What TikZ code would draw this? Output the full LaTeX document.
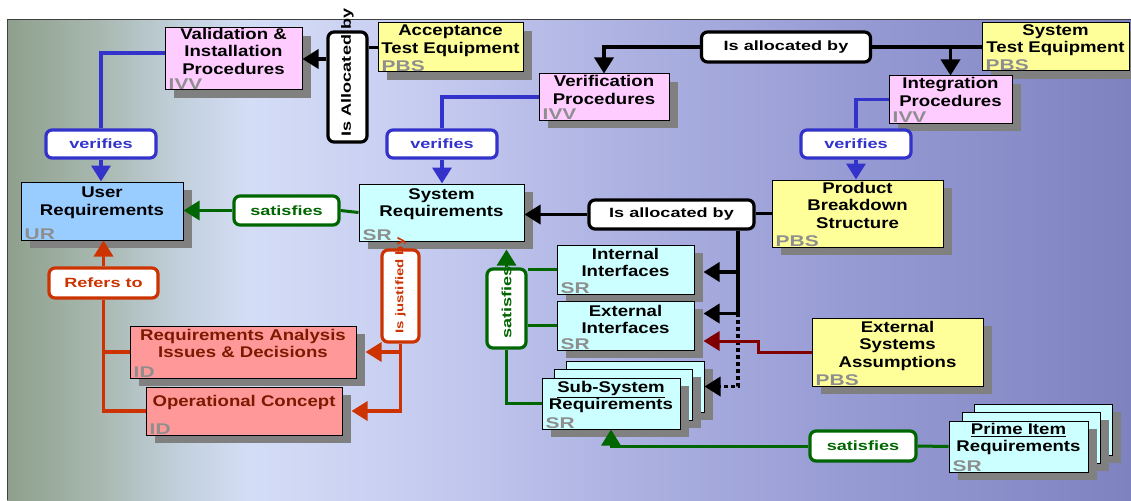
\documentclass[tikz,border=0pt]{standalone}
\usepackage{fontspec}
\setmainfont{Liberation Sans}[FakeStretch=1.2]
\newfontfamily\lblfont{Liberation Sans}[FakeStretch=1.35]
\newfontfamily\tagfont{Liberation Sans}[FakeStretch=1.35]
\usetikzlibrary{arrows.meta,calc}
\definecolor{ivvc}{HTML}{FFCCFF}
\definecolor{pbsc}{HTML}{FFFF99}
\definecolor{urc}{HTML}{99CCFF}
\definecolor{src}{HTML}{CCFFFF}
\definecolor{idc}{HTML}{FF9999}
\definecolor{idtxt}{HTML}{7A1A00}
\definecolor{tagc}{HTML}{8E8E8E}
\definecolor{shc}{HTML}{808080}
\definecolor{bluec}{HTML}{3333CC}
\definecolor{greenc}{HTML}{006600}
\definecolor{redc}{HTML}{CC3300}
\definecolor{dredc}{HTML}{800000}
\definecolor{bga}{HTML}{8EA08C}
\definecolor{bgb}{HTML}{A8B8B0}
\definecolor{bgc}{HTML}{C2D0DC}
\definecolor{bgd}{HTML}{D4DDF6}
\definecolor{bge}{HTML}{C6CCF0}
\definecolor{bgf}{HTML}{ADB2E2}
\definecolor{bgg}{HTML}{979BD4}
\definecolor{bgh}{HTML}{7E83C0}
\pgfdeclarehorizontalshading{bgsh}{100bp}{color(0bp)=(bga); color(25bp)=(bga); color(29.1bp)=(bgb); color(32.7bp)=(bgc); color(35.8bp)=(bgd); color(43.4bp)=(bge); color(52.3bp)=(bgf); color(62.5bp)=(bgg); color(75bp)=(bgh); color(100bp)=(bgh)}
\tikzset{
  boxst/.style={draw=black, line width=1pt, inner sep=0pt},
  ivv/.style={fill=ivvc},
  pbsb/.style={fill=pbsc},
  urb/.style={fill=urc},
  srb/.style={fill=src},
  idb/.style={fill=idc, text=idtxt},
  boxtxt/.style={align=center, inner sep=0pt, font=\bfseries\fontsize{15.5pt}{17.5pt}\selectfont},
  tagtxt/.style={inner sep=0pt, text=tagc, font=\tagfont\bfseries\fontsize{15.5pt}{15.5pt}\selectfont},
  lblbox/.style={rounded corners=6pt, fill=white, line width=3.2pt, inner sep=0pt, font=\lblfont\bfseries\fontsize{13.4pt}{15pt}\selectfont},
  lbltxt/.style={inner sep=0pt, font=\lblfont\bfseries\fontsize{13.4pt}{15pt}\selectfont},
  arr/.style={-{Triangle[length=16pt,width=19pt]}},
  blk/.style={draw=black, line width=3.5pt},
  dotln/.style={draw=black, line width=3.5pt, dash pattern=on 3.5pt off 3.5pt},
  blu/.style={draw=bluec, line width=3.5pt},
  grn/.style={draw=greenc, line width=3pt},
  rdl/.style={draw=redc, line width=3.2pt},
  drd/.style={draw=dredc, line width=3pt},
}
\newcommand\mkbox[9]{%
  \fill[shc] (#2+9,#3+8) rectangle (#4+9,#5+8);
  \node[boxst, #6, minimum width={(#4)-(#2)}, minimum height={(#5)-(#3)}] (#1) at ({((#2)+(#4))/2},{((#3)+(#5))/2}) {};
  \node[boxtxt, #6, fill=none, anchor=north] (#1-t) at ([yshift=-#9pt]#1.north) {#7};
  \node[tagtxt, anchor=base west] (#1-g) at ([xshift=4pt,yshift=0.8pt]#1.south west) {#8};
}
\newcommand\backbox[6]{%
  \fill[shc] (#2+9,#3+8) rectangle (#4+9,#5+8);
  \node[boxst, #6, minimum width={(#4)-(#2)}, minimum height={(#5)-(#3)}] (#1) at ({((#2)+(#4))/2},{((#3)+(#5))/2}) {};
}
\begin{document}
\begin{tikzpicture}[x=1pt, y=-1pt]
\useasboundingbox (0,0) rectangle (1131,500);
\fill[white] (0,0) rectangle (1131,500);
\shade[shading=bgsh] (7,20) rectangle (1131,500);
\draw[black!75, line width=1pt] (7,500) -- (7,20) -- (1131,20);

% boxes
\mkbox{val}{165}{28}{302}{90}{ivv}{Validation \&\\Installation\\Procedures}{IVV}{0.5}
\mkbox{acc}{378}{23}{523}{72}{pbsb}{Acceptance\\Test Equipment}{PBS}{2.5}
\mkbox{ver}{539}{74}{669}{120}{ivv}{Verification\\Procedures}{IVV}{2}
\mkbox{ste}{982}{23}{1129}{71}{pbsb}{System\\Test Equipment}{PBS}{1.5}
\mkbox{int}{889}{76}{1012}{123}{ivv}{Integration\\Procedures}{IVV}{2}
\mkbox{pbs}{772}{180}{943}{247}{pbsb}{Product\\Breakdown\\Structure}{PBS}{2.5}
\mkbox{ur}{21}{182}{183}{240}{urb}{User\\Requirements}{UR}{5.5}
\mkbox{sr}{359}{184}{524}{241}{srb}{System\\Requirements}{SR}{4.5}
\mkbox{ii}{557}{245}{694}{294}{srb}{Internal\\Interfaces}{SR}{3.5}
\mkbox{ei}{557}{301}{694}{350}{srb}{External\\Interfaces}{SR}{4.5}
\backbox{ss3}{566}{361}{704}{412}{srb}
\backbox{ss2}{554}{369}{692}{420}{srb}
\mkbox{ss}{542}{378}{680}{429}{srb}{\underline{Sub-System}\\Requirements}{SR}{3.5}
\mkbox{esa}{812}{318}{983}{386}{pbsb}{External\\Systems\\Assumptions}{PBS}{3.5}
\backbox{pi3}{974}{404}{1112}{455}{srb}
\backbox{pi2}{962}{412}{1100}{463}{srb}
\mkbox{pi}{949}{421}{1088}{472}{srb}{\underline{Prime Item}\\Requirements}{SR}{2.5}
\mkbox{ra}{130}{326}{356}{378}{idb}{Requirements Analysis\\Issues \& Decisions}{ID}{3.5}
\mkbox{op}{146}{387}{342}{435}{idb}{Operational Concept}{ID}{9}

% label boxes
\node[lblbox, draw=bluec, text=bluec, minimum width=110, minimum height=28] (v1) at (101,144) {verifies};
\node[lblbox, draw=bluec, text=bluec, minimum width=110, minimum height=28] (v2) at (442,144) {verifies};
\node[lblbox, draw=bluec, text=bluec, minimum width=110, minimum height=28] (v3) at (856,144) {verifies};
\node[lblbox, draw=greenc, text=greenc, minimum width=105, minimum height=29] (sat1) at (286.5,210.5) {satisfies};
\node[lblbox, draw=greenc, text=greenc, minimum width=106, minimum height=30] (sat3) at (863,446) {satisfies};
\node[lblbox, draw=black, text=black, minimum width=169, minimum height=30] (al2) at (786,47) {Is allocated by};
\node[lblbox, draw=black, text=black, minimum width=165, minimum height=29] (al3) at (671.5,214.5) {Is allocated by};
\node[lblbox, draw=redc, text=redc, minimum width=109, minimum height=30] (rt) at (103.5,283) {Refers to};
\node[lblbox, draw=black, minimum width=39, minimum height=110] (alc) at (347.5,87) {};
\node[lbltxt, text=black, rotate=90, anchor=west] (alc-t) at ([yshift=7pt]alc.south) {Is Allocated by};
\node[lblbox, draw=redc, minimum width=37, minimum height=92] (jb) at (400.5,296) {};
\node[lbltxt, text=redc, rotate=90, anchor=west, font=\lblfont\bfseries\fontsize{11.1pt}{13pt}\selectfont] (jb-t) at ([yshift=10pt]jb.south) {Is justified by};
\node[lblbox, draw=greenc, minimum width=39, minimum height=79] (sat2) at (506.5,308.5) {};
\node[lbltxt, text=greenc, rotate=90, anchor=west] (sat2-t) at ([yshift=11pt]sat2.south) {satisfies};

% black connectors
\draw[blk] (acc.west) -- (acc.west -| alc.east);
\draw[blk, arr] (alc.west |- val.east) -- (val.east);
\draw[blk] (ste.west) -- (al2.east);
\draw[blk, arr] (int.north |- ste.west) -- (int.north);
\draw[blk, arr] (al2.west) -| (ver.north);
\draw[blk] (pbs.west) -- (pbs.west -| al3.east);
\draw[blk, arr] (al3.west) -- (al3.west -| sr.east);
\coordinate (tk) at (738,313);
\coordinate (iiT) at ([xshift=9pt,yshift=-2.5pt]ii.east);
\coordinate (eiT) at ([xshift=9pt,yshift=12pt]ei.east);
\draw[blk] (al3.south -| tk) -- (tk);
\draw[blk, arr] (tk |- iiT) -- (iiT);
\draw[blk, arr] (tk |- eiT) -- (eiT);
\draw[dotln, arr] (tk) |- (ss3.east);
% dark red
\coordinate (dk) at (758,341);
\coordinate (eiR) at ([xshift=9pt,yshift=-15.5pt]ei.east);
\draw[drd, arr] (esa.west) -| (dk) -- (eiR);
% blue
\draw[blu] ([yshift=6pt]val.west) -| (v1.north);
\draw[blu, arr] (v1.south) -- (v1.south |- ur.north);
\draw[blu] (ver.west) -| (v2.north);
\draw[blu, arr] (v2.south) -- (v2.south |- sr.north);
\draw[blu] (int.west) -| (v3.north);
\draw[blu, arr] (v3.south) -- (v3.south |- pbs.north);
% green
\coordinate (srB) at ([yshift=-8pt]sr.south);
\draw[grn, arr] (sat2.north) -- (sat2.north |- srB);
\draw[grn] (ii.west) -- (ii.west -| sat2.east);
\draw[grn] (ei.west) -- (ei.west -| sat2.east);
\draw[grn] (sat2.south) |- (ss.west);
\draw[grn] (sr.west) -- (sat1.east);
\draw[grn, arr] (sat1.west) -- (sat1.west -| ur.east);
\draw[grn] (pi.west) -- (sat3.east);
\draw[grn, arr] (sat3.west) -| (ss.south);
% red
\coordinate (raT) at ([xshift=9pt]ra.east);
\coordinate (opT) at ([xshift=9pt]op.east);
\draw[rdl, arr] (jb.south) |- (opT);
\draw[rdl, arr] (jb.south |- raT) -- (raT);
\draw[rdl] (op.west) -| (rt.south);
\draw[rdl] (ra.west) -- (ra.west -| rt.south);
\draw[rdl, arr] (rt.north) -- (rt.north |- ur.south);
\end{tikzpicture}
\end{document}
